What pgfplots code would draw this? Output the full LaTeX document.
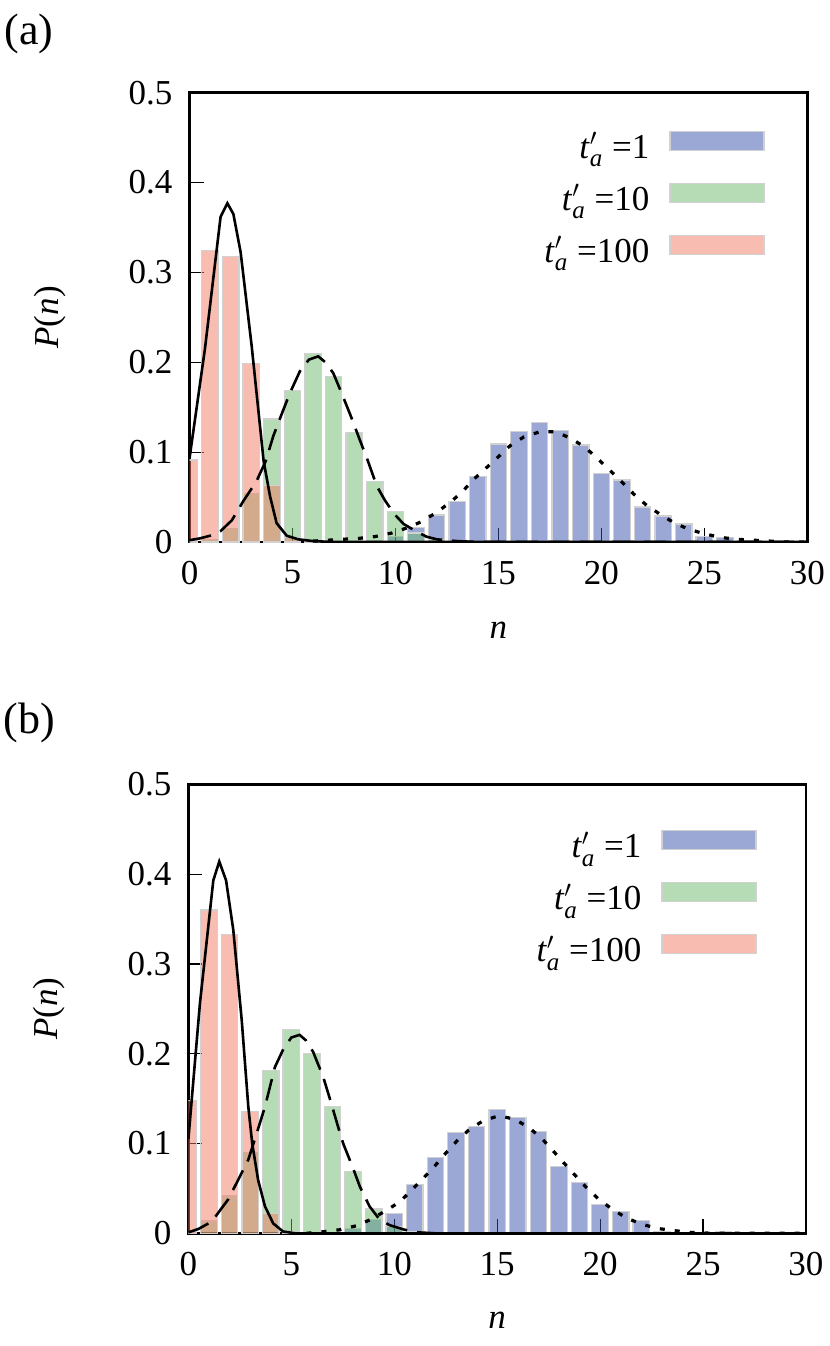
\documentclass[border=0pt]{standalone}
\usepackage{fontspec}
\setmainfont{Liberation Serif}
\usepackage{pgfplots}
\pgfplotsset{compat=1.18}

\definecolor{cB}{RGB}{55,81,173}
\definecolor{cG}{RGB}{109,185,109}
\definecolor{cR}{RGB}{241,121,97}

\newcommand{\fs}{\fontsize{17.5}{20}\selectfont}
\newcommand{\tlab}[1]{\textit{t}$'_{\mbox{\fontsize{12.5}{12}\selectfont\itshape a}}$ =#1}

\pgfplotsset{
  common/.style={
    scale only axis,
    xmin=0, xmax=30, ymin=0, ymax=0.5,
    tick pos=left, tick align=inside,
    xtick={0,5,10,15,20,25,30},
    xticklabels={0,5,10,15,20,25,30},
    ytick={0,0.1,0.2,0.3,0.4,0.5},
    yticklabels={0,0.1,0.2,0.3,0.4,0.5},
    ticklabel style={font=\fs},
    xticklabel style={yshift=-6pt},
    yticklabel style={xshift=-5pt},
    label style={font=\fs},
    axis line style={line width=1.4pt},
    major tick style={line width=0.6pt, black},
    major tick length=7pt,
    xlabel={\textit{n}},
    ylabel={\textit{P}(\textit{n})},
    legend cell align=right,
    legend plot pos=right,
    legend style={draw=none, fill=none, font=\fs, anchor=north east,
      column sep=10pt, row sep=0pt, inner sep=0pt,
      nodes={inner sep=0pt, text height=16pt, text depth=10pt}},
  },
  barstyle/.style={ybar, bar width=0.8, bar shift=0pt, draw=black!18, line width=0.6pt,
    fill=#1, fill opacity=0.5,
    legend image code/.code={\draw[##1] (0pt,1pt) rectangle (47pt,10.5pt);}},
  solidc/.style={black, line width=1.3pt, forget plot},
  dashc/.style={black, line width=1.3pt, dash pattern=on 11pt off 5pt, forget plot},
  dotc/.style={black, line width=1.6pt, dash pattern=on 2.5pt off 5pt, forget plot},
}

\begin{document}
\begin{tikzpicture}
\useasboundingbox (0,0) rectangle (415pt,-673pt);

\node[font=\fontsize{22}{24}\selectfont, anchor=center] at (14.5pt,-17pt) {(a)};
\node[font=\fontsize{22}{24}\selectfont, anchor=center] at (14.5pt,-361.5pt) {(b)};

% ---------------- panel (a)
\begin{axis}[common,
  at={(94.75pt,-271pt)}, anchor=south west,
  width=308.9pt, height=224.65pt,
  xlabel style={at={(axis description cs:0.5,-0.196)}, anchor=center},
  ylabel style={at={(axis description cs:-0.226,0.5)}, anchor=center},
  legend style={at={(axis description cs:0.9315,0.926)}},
]
\addplot[barstyle=cB] coordinates {
(9,0.002) (10,0.006) (11,0.016) (12,0.030) (13,0.045) (14,0.073) (15,0.109)
(16,0.123) (17,0.133) (18,0.124) (19,0.108) (20,0.076) (21,0.069) (22,0.039)
(23,0.029) (24,0.020) (25,0.0065) (26,0.005) (27,0.002) (28,0.001)};
\addlegendentry{\tlab{1}}
\addplot[barstyle=cG] coordinates {
(1,0.003) (2,0.015) (3,0.054) (4,0.137) (5,0.1685) (6,0.2095) (7,0.184)
(8,0.1215) (9,0.067) (10,0.034) (11,0.010) (12,0.003)};
\addlegendentry{\tlab{10}}
\addplot[barstyle=cR] coordinates {
(0,0.0912) (1,0.324) (2,0.318) (3,0.199) (4,0.063) (5,0.005)};
\addlegendentry{\tlab{100}}

\addplot[dotc] coordinates {
(6,0.001) (7.4,0.003) (8.2,0.004) (9.0,0.006) (9.82,0.010) (10.6,0.016) (11.3,0.023)
(12.0,0.033) (12.65,0.044) (13.21,0.055) (13.81,0.070) (14.39,0.082) (14.96,0.094)
(15.56,0.107) (16.24,0.117) (17.01,0.1227) (17.79,0.1227) (18.55,0.115) (19.23,0.105)
(19.85,0.092) (20.41,0.080) (21.03,0.066) (21.59,0.053) (22.19,0.041) (22.84,0.031)
(23.49,0.022) (24.21,0.0144) (25.02,0.009) (25.83,0.005) (26.6,0.003) (27.4,0.002)
(28.2,0.001) (29,0) (30,0)};
\addplot[dashc] coordinates {
(0,0.002) (0.5,0.004) (1.0,0.007) (1.5,0.012) (2.05,0.024) (2.6,0.045) (3.26,0.068)
(3.7,0.09) (4.07,0.118) (4.47,0.142) (4.88,0.166) (5.36,0.19) (5.8,0.203) (6.25,0.2066)
(6.6,0.2) (6.98,0.188) (7.4,0.165) (7.87,0.138) (8.28,0.113) (8.65,0.091) (9.1,0.062)
(9.5,0.046) (9.95,0.031) (10.4,0.02) (11.0,0.012) (11.5,0.006) (12,0.003) (13,0.001)
(14,0) (30,0)};
\addplot[solidc] coordinates {
(0,0.093) (0.75,0.215) (1.51,0.362) (1.84,0.377) (2.13,0.365) (2.48,0.323) (3.02,0.218)
(3.6,0.09) (3.91,0.051) (4.23,0.021) (4.72,0.007) (5.28,0.003) (6,0.001) (7,0) (30,0)};
\end{axis}

% ---------------- panel (b)
\begin{axis}[common,
  at={(94.2pt,-616.65pt)}, anchor=south west,
  width=308.8pt, height=224.5pt,
  xlabel style={at={(axis description cs:0.5,-0.193)}, anchor=center},
  ylabel style={at={(axis description cs:-0.226,0.5)}, anchor=center},
  legend style={at={(axis description cs:0.9207,0.909)}},
]
\addplot[barstyle=cB] coordinates {
(7,0.001) (8,0.005) (9,0.015) (10,0.022) (11,0.054) (12,0.084) (13,0.112) (14,0.119)
(15,0.138) (16,0.129) (17,0.113) (18,0.074) (19,0.057) (20,0.032) (21,0.024)
(22,0.014) (23,0.002) (24,0.001) (26,0.002)};
\addlegendentry{\tlab{1}}
\addplot[barstyle=cG] coordinates {
(0,0.001) (1,0.0137) (2,0.0415) (3,0.090) (4,0.181) (5,0.227) (6,0.200) (7,0.141)
(8,0.069) (9,0.027) (10,0.008) (11,0.002)};
\addlegendentry{\tlab{10}}
\addplot[barstyle=cR] coordinates {
(0,0.148) (1,0.360) (2,0.333) (3,0.136) (4,0.022) (5,0.002)};
\addlegendentry{\tlab{100}}

\addplot[dotc] coordinates {
(5.74,0) (6.63,0.002) (7.36,0.004) (8.17,0.0085) (8.82,0.015) (9.5,0.024) (10.27,0.035)
(10.84,0.048) (11.4,0.061) (11.97,0.075) (12.49,0.089) (13.05,0.103) (13.62,0.115)
(14.29,0.125) (15.08,0.131) (15.85,0.127) (16.53,0.118) (17.15,0.106) (17.71,0.092)
(18.23,0.0786) (18.77,0.065) (19.33,0.051) (19.93,0.038) (20.58,0.027) (21.28,0.017)
(22.0,0.0104) (22.76,0.0055) (23.6,0.003) (24.4,0.001) (25.5,0) (30,0)};
\addplot[dashc] coordinates {
(0,0.001) (0.5,0.005) (1.13,0.013) (1.94,0.038) (2.34,0.056) (2.91,0.082) (3.3,0.11)
(3.72,0.141) (4.2,0.185) (4.61,0.205) (5.0,0.218) (5.4,0.221) (5.7,0.215) (6.06,0.202)
(6.55,0.174) (6.87,0.150) (7.28,0.118) (7.52,0.100) (8.0,0.0724) (8.33,0.052) (8.8,0.03)
(9.3,0.015) (9.79,0.009) (10.5,0.004) (11.2,0.001) (12,0) (30,0)};
\addplot[solidc] coordinates {
(0,0.105) (0.56,0.256) (1.21,0.393) (1.5,0.414) (1.83,0.393) (2.18,0.338) (2.59,0.2375)
(2.91,0.141) (3.1,0.1) (3.39,0.059) (3.72,0.030) (4.12,0.011) (4.6,0.002) (5.2,0) (30,0)};
\end{axis}
\end{tikzpicture}
\end{document}
